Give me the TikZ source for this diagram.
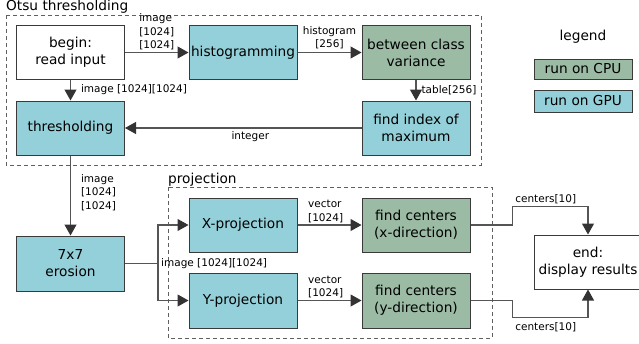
\documentclass[tikz,border=0pt]{standalone}
\usepackage{fontspec}
\setmainfont{DejaVu Sans}
\usetikzlibrary{arrows.meta,calc}
\definecolor{gpucol}{HTML}{94D0D9}
\definecolor{cpucol}{HTML}{9BBBA5}
\definecolor{boxline}{HTML}{3A3A3A}
\definecolor{linecol}{HTML}{555555}
\definecolor{headcol}{HTML}{333333}
\definecolor{dashcol}{HTML}{606060}
\begin{document}
\begin{tikzpicture}[x=1pt,y=-1pt,
  box/.style={draw=boxline, line width=1pt, minimum width=108pt, minimum height=54pt,
    align=center, font=\fontsize{13.7}{17}\selectfont, inner sep=1pt},
  gpu/.style={box, fill=gpucol},
  cpu/.style={box, fill=cpucol},
  plain/.style={box, fill=white},
  lbl/.style={font=\fontsize{10.5}{13.3}\selectfont, inner sep=2pt},
  ttl/.style={font=\fontsize{13.7}{17}\selectfont, inner sep=0pt},
  arr/.style={draw=linecol, line width=1.1pt, -{Triangle[length=11pt,width=12pt,fill=headcol,color=headcol]}},
  ln/.style={draw=linecol, line width=1.1pt},
  group/.style={draw=dashcol, line width=1pt, dash pattern=on 4pt off 3pt}]
\useasboundingbox (0,0) rectangle (639,343);
\fill[white] (0,0) rectangle (639,343);
% groups
\draw[group] (6,15) rectangle (481,165);
\draw[group] (168,187) rectangle (492,338);
\node[ttl, anchor=base west] (tOtsu) at (6,10) {Otsu thresholding};
\node[ttl, anchor=base west] (tProj) at (168,183) {projection};
% nodes
\node[plain] (begin) at (70.5,52.5) {begin:\\read input};
\node[gpu] (hist) at (243,52.5) {histogramming};
\node[cpu] (betw) at (416,52.5) {between class\\variance};
\node[gpu] (thr) at (70.5,128) {thresholding};
\node[gpu] (fidx) at (416,128) {find index of\\maximum};
\node[gpu, minimum height=55pt] (ero) at (70.5,263.5) {7x7\\erosion};
\node[gpu] (xp) at (243,225) {X-projection};
\node[gpu, minimum height=55pt] (yp) at (243,300.5) {Y-projection};
\node[cpu] (fcx) at (416,225) {find centers\\(x-direction)};
\node[cpu, minimum height=55pt] (fcy) at (416,300.5) {find centers\\(y-direction)};
\node[plain] (end) at (588,262) {end:\\display results};
% legend
\node[ttl, anchor=base] (leg) at (583,40) {legend};
\node[box, fill=cpucol, minimum width=98pt, minimum height=20pt] (lcpu) at (583,69) {run on CPU};
\node[box, fill=gpucol, minimum width=98pt, minimum height=22pt] (lgpu) at (583,101) {run on GPU};
% connectors
\draw[arr] (begin) -- node[lbl, above, align=left, pos=0.5] {image\\{}[1024]\\{}[1024]} (hist);
\draw[arr] (hist) -- node[lbl, above, align=center, yshift=1pt] {histogram\\{}[256]} (betw);
\draw[arr] (betw) -- node[lbl, right, xshift=3pt] {table[256]} (fidx);
\draw[arr] (begin) -- node[lbl, right, xshift=8pt, yshift=1pt] {image [1024][1024]} (thr);
\draw[arr] (fidx) -- node[lbl, below, pos=0.47, yshift=-1pt] {integer} (thr);
\draw[arr] (thr) -- node[lbl, right, align=left, xshift=8pt, yshift=3pt] {image\\{}[1024]\\{}[1024]} (ero);
\coordinate (jn) at ($(ero.east)+(33,0)$);
\draw[ln] (ero.east) -- (jn);
\node[lbl, anchor=west, inner sep=1pt, xshift=2pt] (lj) at (jn) {image [1024][1024]};
\draw[arr] (jn) |- (xp.west);
\draw[arr] (jn) |- (yp.west);
\draw[arr] (xp) -- node[lbl, above, align=left, pos=0.44] {vector\\{}[1024]} (fcx);
\draw[arr] (yp) -- node[lbl, above, align=left, pos=0.44] {vector\\{}[1024]} (fcy);
\draw[arr] (fcx.east) -- ++(42,0) |- node[lbl, above, pos=0.72] {centers[10]} ($(end.north)+(0,-28)$) -- (end.north);
\draw[arr] (fcy.east) -- ++(42,0) |- node[lbl, below, pos=0.72, yshift=-2pt] {centers[10]} ($(end.south)+(0,28)$) -- (end.south);
\end{tikzpicture}
\end{document}
